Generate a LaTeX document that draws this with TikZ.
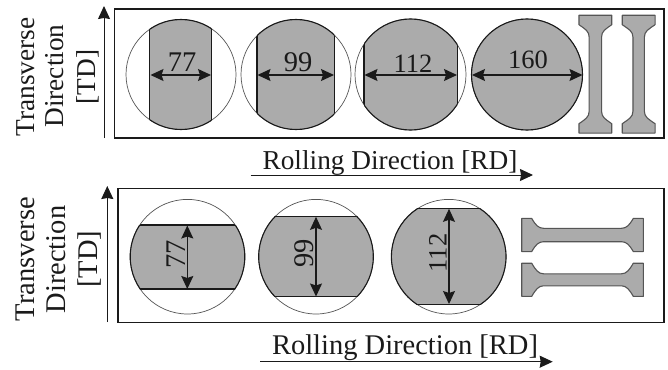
\documentclass[tikz,border=0pt]{standalone}
\usepackage{fontspec}
\setmainfont{Liberation Serif}
\usetikzlibrary{arrows.meta}
\definecolor{ink}{HTML}{1A1A1A}
\definecolor{metal}{HTML}{ABABAB}
\definecolor{rim}{HTML}{555555}
\tikzset{
  panel/.style={draw=ink,line width=1.2pt,fill=white},
  blank/.style={draw=rim,line width=0.7pt,fill=white},
  cutedge/.style={draw=ink,line width=1.1pt},
  bone/.style={draw=rim,line width=1.1pt,fill=metal,line join=round},
  axis/.style={draw=ink,line width=1pt,-{Stealth[length=13pt,width=12pt,inset=1pt]}},
  dim/.style={draw=ink,line width=1.2pt,{Stealth[length=13pt,width=12pt,inset=2pt]}-{Stealth[length=13pt,width=12pt,inset=2pt]}},
  lab/.style={text=ink,inner sep=0pt,anchor=base,font=\fontsize{27.3}{27}\selectfont},
  sidelab/.style={lab,rotate=90},
  numlab/.style={lab,font=\fontsize{26.5}{26}\selectfont},
  widenum/.style={lab,font=\fontsize{28.5}{26}\selectfont},
}
% centre x, centre y, radius, strip from, strip to (vertical strip)
\newcommand{\vcut}[5]{%
  \path[blank] (#1,#2) circle[radius=#3];
  \begin{scope}
    \clip (#1,#2) circle[radius=#3];
    \fill[metal] (#4,#2-70) rectangle (#5,#2+70);
    \draw[cutedge] (#4,#2-70) -- (#4,#2+70) (#5,#2-70) -- (#5,#2+70);
  \end{scope}
  \begin{scope}
    \clip (#4,#2-70) rectangle (#5,#2+70);
    \draw[cutedge] (#1,#2) circle[radius=#3];
  \end{scope}}
\newcommand{\hcut}[5]{%
  \path[blank] (#1,#2) circle[radius=#3];
  \begin{scope}
    \clip (#1,#2) circle[radius=#3];
    \fill[metal] (#1-70,#4) rectangle (#1+70,#5);
    \draw[cutedge] (#1-70,#4) -- (#1+70,#4) (#1-70,#5) -- (#1+70,#5);
  \end{scope}
  \begin{scope}
    \clip (#1-70,#4) rectangle (#1+70,#5);
    \draw[cutedge] (#1,#2) circle[radius=#3];
  \end{scope}}
\newcommand{\vbone}[2]{%
  \path[bone,shift={(#1,74.2)}]
    (-16.4,-58.9) -- (16.4,-58.9) -- (16.4,-49.5)
    .. controls (10,-45) and (#2,-43) .. (#2,-37)
    -- (#2,37) .. controls (#2,43) and (10,45) .. (16.4,49.5)
    -- (16.4,58.9) -- (-16.4,58.9) -- (-16.4,49.5)
    .. controls (-10,45) and (-#2,43) .. (-#2,37)
    -- (-#2,-37) .. controls (-#2,-43) and (-10,-45) .. (-16.4,-49.5)
    -- cycle;}
\newcommand{\hbone}[2]{%
  \path[bone,shift={(582.5,#1)}]
    (-60.8,-16.6) -- (-50.8,-16.6)
    .. controls (-47,-10) and (-44,-#2) .. (-39,-#2)
    -- (39,-#2) .. controls (44,-#2) and (47,-10) .. (50.8,-16.6)
    -- (60.8,-16.6) -- (60.8,16.6) -- (50.8,16.6)
    .. controls (47,10) and (44,#2) .. (39,#2)
    -- (-39,#2) .. controls (-44,#2) and (-47,10) .. (-50.8,16.6)
    -- (-60.8,16.6) -- cycle;}
\begin{document}
\begin{tikzpicture}[x=1pt,y=-1pt]
\path[use as bounding box] (0,0) rectangle (668,369);

% ---------- upper panel
\node[panel,minimum width=549.5pt,minimum height=129pt,inner sep=0pt] (panelA) at (389.25,73.5) {};
\vcut{181}{74.5}{55}{149.7}{211.3}
\vcut{296}{74.5}{55}{257}{334.3}
\vcut{410.5}{74.5}{55.5}{364}{457.3}
\vcut{527}{74.5}{55.5}{400}{660}
\vbone{595.35}{6.2}
\vbone{638.65}{5.7}

\coordinate (a1l) at (150.5,75); \coordinate (a1r) at (211,75);
\coordinate (a2l) at (257.5,75); \coordinate (a2r) at (334,75);
\coordinate (a3l) at (364.5,75); \coordinate (a3r) at (457,75);
\coordinate (a4l) at (472,75); \coordinate (a4r) at (582.5,75);
\draw[dim] (a1l) -- (a1r);
\draw[dim] (a2l) -- (a2r);
\draw[dim] (a3l) -- (a3r);
\draw[dim] (a4l) -- (a4r);
\node[widenum] (n77a) at (182,71.7) {77};
\node[widenum] (n99a) at (298,71.7) {99};
\node[numlab] (n112a) at (413,72.3) {112};
\node[numlab] (n160a) at (528,68.3) {160};

\coordinate (tdAs) at (104,138); \coordinate (tdAe) at (104,6);
\draw[axis] (tdAs) -- (tdAe);
\coordinate (rdAs) at (250.7,175); \coordinate (rdAe) at (533,175);
\draw[axis] (rdAs) -- (rdAe);
\node[sidelab] (tA1) at (34.3,77) {Transverse};
\node[sidelab] (tA2) at (63.3,76) {Direction};
\node[sidelab] (tA3) at (95,77) {[TD]};
\node[lab] (rA) at (390,169) {Rolling Direction [RD]};

% ---------- lower panel
\node[panel,minimum width=546pt,minimum height=134.5pt,inner sep=0pt] (panelB) at (391,255.5) {};
\hcut{187.5}{256.7}{57.3}{225}{289}
\hcut{316}{256.7}{57.3}{216.3}{296.7}
\hcut{448.7}{256.7}{57.3}{208.3}{304.3}
\hbone{235}{6.7}
\hbone{279.8}{6}

\coordinate (b1t) at (187.3,225.5); \coordinate (b1b) at (187.3,289);
\coordinate (b2t) at (316,216.8); \coordinate (b2b) at (316,296.5);
\coordinate (b3t) at (449,208.8); \coordinate (b3b) at (449,304);
\draw[dim] (b1t) -- (b1b);
\draw[dim] (b2t) -- (b2b);
\draw[dim] (b3t) -- (b3b);
\node[widenum,rotate=90] (n77b) at (185,254) {77};
\node[widenum,rotate=90] (n99b) at (313.3,253) {99};
\node[numlab,rotate=90] (n112b) at (446.7,253) {112};

\coordinate (tdBs) at (107.3,322); \coordinate (tdBe) at (107.3,186);
\draw[axis] (tdBs) -- (tdBe);
\coordinate (rdBs) at (260,361.7); \coordinate (rdBe) at (552.7,361.7);
\draw[axis] (rdBs) -- (rdBe);
\node[sidelab,font=\fontsize{28.5}{28}\selectfont] (tB1) at (34.3,259) {Transverse};
\node[sidelab,font=\fontsize{28.5}{28}\selectfont] (tB2) at (65.7,259.5) {Direction};
\node[sidelab,font=\fontsize{28.5}{28}\selectfont] (tB3) at (97,259) {[TD]};
\node[lab,font=\fontsize{28.5}{28}\selectfont] (rB) at (405,354.3) {Rolling Direction [RD]};
\end{tikzpicture}
\end{document}
